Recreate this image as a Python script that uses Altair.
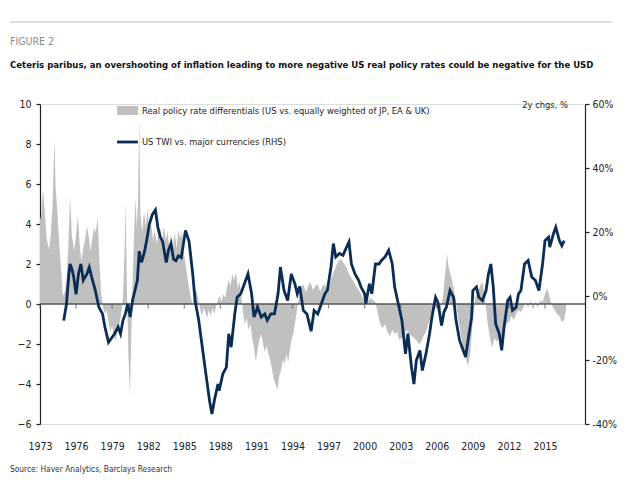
import altair as alt
import pandas as pd

# Real policy rate differential (LHS)
rate_year = [1973.0, 1973.1, 1973.25, 1973.4, 1973.55, 1973.75, 1973.9, 1974.05, 1974.2, 1974.3, 1974.45, 1974.6, 1974.75, 1974.9,
             1975.05, 1975.2, 1975.35, 1975.5, 1975.65, 1975.85, 1976.0, 1976.15, 1976.3, 1976.45, 1976.6, 1976.75, 1976.9,
             1977.05, 1977.2, 1977.35, 1977.5, 1977.65, 1977.8, 1977.95, 1978.1, 1978.25, 1978.4, 1978.55, 1978.7, 1978.85,
             1979.0, 1979.15, 1979.3, 1979.45, 1979.6, 1979.75, 1979.9, 1980.05, 1980.12, 1980.22, 1980.35, 1980.48, 1980.6,
             1980.72, 1980.85, 1980.95, 1981.05, 1981.15, 1981.25, 1981.35, 1981.5, 1981.65, 1981.8, 1981.95, 1982.1, 1982.25,
             1982.4, 1982.55, 1982.7, 1982.85, 1983.0, 1983.15, 1983.3, 1983.45, 1983.6, 1983.75, 1983.9, 1984.05, 1984.2,
             1984.35, 1984.5, 1984.65, 1984.8, 1984.95, 1985.1, 1985.25, 1985.4, 1985.55, 1985.7, 1985.85, 1986.0, 1986.15,
             1986.3, 1986.45, 1986.6, 1986.75, 1986.9, 1987.05, 1987.2, 1987.35, 1987.5, 1987.65, 1987.8, 1987.95, 1988.1,
             1988.25, 1988.4, 1988.55, 1988.7, 1988.85, 1989.0, 1989.15, 1989.3, 1989.45, 1989.6, 1989.75, 1989.9, 1990.05,
             1990.2, 1990.35, 1990.5, 1990.65, 1990.8, 1990.95, 1991.1, 1991.25, 1991.4, 1991.55, 1991.7, 1991.85, 1992.0,
             1992.15, 1992.3, 1992.45, 1992.6, 1992.75, 1992.9, 1993.05, 1993.2, 1993.35, 1993.5, 1993.65, 1993.8, 1993.95,
             1994.1, 1994.25, 1994.4, 1994.55, 1994.7, 1994.9, 1995.1, 1995.3, 1995.5, 1995.7, 1995.9, 1996.1, 1996.3, 1996.5,
             1996.7, 1996.9, 1997.1, 1997.3, 1997.5, 1997.7, 1997.9, 1998.1, 1998.3, 1998.5, 1998.7, 1998.9, 1999.1, 1999.3,
             1999.5, 1999.7, 1999.9, 2000.1, 2000.3, 2000.5, 2000.7, 2000.9, 2001.1, 2001.3, 2001.5, 2001.7, 2001.9, 2002.1,
             2002.3, 2002.5, 2002.7, 2002.9, 2003.1, 2003.3, 2003.5, 2003.7, 2003.9, 2004.1, 2004.3, 2004.5, 2004.7, 2004.9,
             2005.1, 2005.3, 2005.5, 2005.7, 2005.9, 2006.1, 2006.3, 2006.5, 2006.7, 2006.85, 2007.0, 2007.2, 2007.4, 2007.6,
             2007.8, 2008.0, 2008.2, 2008.4, 2008.6, 2008.8, 2009.0, 2009.2, 2009.4, 2009.6, 2009.8, 2010.0, 2010.2, 2010.4,
             2010.6, 2010.8, 2011.0, 2011.2, 2011.4, 2011.6, 2011.8, 2012.0, 2012.2, 2012.4, 2012.6, 2012.8, 2013.0, 2013.2,
             2013.4, 2013.6, 2013.8, 2014.0, 2014.2, 2014.4, 2014.6, 2014.8, 2015.0, 2015.2, 2015.4, 2015.6, 2015.8, 2016.0,
             2016.2, 2016.4, 2016.6, 2016.75]
rate_val = [4.2, 4.4, 5.8, 4.6, 3.3, 2.7, 3.5, 5.0, 8.3, 5.8, 4.6, 3.0, 1.8, 0.4,
            0.6, 1.2, 2.8, 5.4, 3.4, 2.7, 3.5, 4.4, 3.0, 2.1, 2.8, 3.2, 3.9,
            3.4, 2.6, 3.3, 3.8, 3.6, 4.3, 2.0, 0.5, -0.2, -0.5, -0.3, -0.9, -1.4,
            -1.1, -1.6, -1.8, -1.3, -1.0, -0.5, 0.3, 3.0, 5.1, 1.0, -2.5, -4.6, -1.5,
            1.5, 4.0, 5.3, 3.8, 5.0, 9.3, 4.5, 3.6, 4.6, 3.9, 4.8, 3.6, 4.0,
            3.2, 3.7, 3.0, 3.5, 3.8, 3.0, 3.9, 3.2, 3.6, 2.9, 3.5, 2.7, 3.6,
            2.8, 3.7, 3.3, 3.6, 2.6, 2.0, 1.4, 0.8, 0.3, 0.0, 0.5, 0.7, 0.3,
            -0.2, -0.6, -0.2, -0.4, -0.7, -0.3, -0.6, -0.2, -0.5, -0.1, 0.2, 0.4, 0.1,
            0.5, 0.3, 0.8, 1.2, 0.9, 1.5, 1.2, 1.6, 0.8, 1.1, 0.4, -0.5, -1.0,
            -0.7, -1.3, -1.0, -1.7, -2.2, -2.85, -2.3, -1.8, -1.5, -2.0, -2.4, -2.1, -2.5,
            -2.8, -3.3, -3.8, -4.0, -4.3, -3.6, -3.3, -2.8, -3.0, -2.5, -2.9, -2.2, -1.7,
            -1.4, -0.8, -0.2, 0.4, 0.8, 1.0, 0.6, 0.9, 1.1, 0.7, 0.9, 1.0, 0.6, 0.9,
            1.0, 0.5, 1.0, 1.4, 1.7, 2.0, 2.2, 2.2, 2.0, 1.8, 1.5, 1.3, 1.1, 0.9,
            0.7, 0.5, 0.2, 0.0, 0.2, 0.3, 0.2, 0.1, -0.5, -1.0, -1.2, -1.0, -1.4, -1.6,
            -1.3, -1.5, -1.4, -1.8, -1.7, -1.5, -1.3, -1.5, -1.6, -1.7, -1.8, -2.0, -1.9, -1.6,
            -1.4, -1.0, -0.7, -0.3, -0.1, -0.2, -0.4, 0.3, 1.5, 2.5, 1.8, 1.4, 0.8, 0.1,
            -0.8, -1.5, -2.2, -2.7, -3.1, -2.4, -0.8, 0.3, 0.6, 0.9, 1.1, 0.4, -0.8, -1.6,
            -2.2, -1.7, -1.9, -1.6, -1.8, -1.3, -1.0, -0.9, -0.6, -0.8, -0.5, -0.3, -0.4, -0.2,
            0.1, -0.2, 0.2, -0.3, 0.1, -0.2, 0.2, 0.1, 0.5, 0.8, 0.3, -0.1, -0.3, -0.5,
            -0.6, -0.9, -0.8, -0.3]

# US TWI vs major currencies, 2y % change (RHS)
twi_year = [1974.97, 1975.2, 1975.4, 1975.5, 1975.65, 1975.8, 1976.0, 1976.2, 1976.4, 1976.6, 1976.9, 1977.1, 1977.3,
            1977.6, 1977.9, 1978.2, 1978.4, 1978.7, 1979.0, 1979.2, 1979.5, 1979.7, 1979.9, 1980.1, 1980.3, 1980.5,
            1980.7, 1980.9, 1981.1, 1981.25, 1981.45, 1981.7, 1981.9, 1982.1, 1982.35, 1982.6, 1982.8, 1983.0, 1983.2,
            1983.5, 1983.7, 1983.9, 1984.1, 1984.3, 1984.5, 1984.75, 1985.1, 1985.4, 1985.7, 1985.9, 1986.2, 1986.5,
            1986.8, 1987.1, 1987.3, 1987.5, 1987.8, 1987.9, 1988.2, 1988.5, 1988.7, 1988.9, 1989.2, 1989.4, 1989.7,
            1990.0, 1990.3, 1990.6, 1990.8, 1991.1, 1991.4, 1991.7, 1991.9, 1992.2, 1992.5, 1992.8, 1993.0, 1993.3,
            1993.6, 1993.9, 1994.2, 1994.4, 1994.6, 1994.9, 1995.2, 1995.55, 1995.8, 1996.1, 1996.4, 1996.7, 1996.9,
            1997.2, 1997.4, 1997.6, 1997.9, 1998.2, 1998.5, 1998.7, 1998.9, 1999.2, 1999.5, 1999.7, 2000.0, 2000.1,
            2000.4, 2000.6, 2000.9, 2001.2, 2001.4, 2001.7, 2002.0, 2002.3, 2002.5, 2002.8, 2003.1, 2003.4, 2003.6,
            2003.9, 2004.1, 2004.3, 2004.6, 2004.8, 2005.1, 2005.4, 2005.6, 2005.9, 2006.1, 2006.4, 2006.6, 2006.8,
            2007.1, 2007.4, 2007.6, 2007.9, 2008.2, 2008.4, 2008.6, 2008.9, 2009.0, 2009.3, 2009.5, 2009.8, 2010.1,
            2010.3, 2010.5, 2010.7, 2010.9, 2011.2, 2011.4, 2011.6, 2011.9, 2012.1, 2012.3, 2012.6, 2012.8, 2013.0,
            2013.3, 2013.6, 2013.9, 2014.2, 2014.5, 2014.8, 2015.0, 2015.3, 2015.4, 2015.7, 2015.9, 2016.2, 2016.4,
            2016.6]
twi_val = [-7.7, -2.6, 6.9, 10.0, 8.5, 6.0, 0.5, 6.9, 10.0, 4.9, 6.9, 9.0, 5.9,
           1.7, -3.5, -5.6, -9.7, -14.5, -12.9, -11.8, -9.7, -11.8, -7.6, -5.6, -2.4, -6.6,
           -1.3, 1.8, 4.9, 14.0, 10.5, 14.0, 18.0, 22.5, 25.5, 26.9, 21.5, 18.5, 17.0,
           10.5, 14.5, 16.4, 11.5, 11.0, 12.5, 12.0, 20.5, 17.0, 7.0, -1.4, -7.6, -16.0,
           -24.4, -32.7, -36.9, -32.7, -27.5, -29.6, -24.4, -22.3, -11.8, -16.0, -5.6, -0.4, 0.7,
           3.8, 6.9, 0.7, -6.6, -3.5, -6.6, -5.6, -7.6, -5.6, -5.6, 0.7, 9.0, 1.7,
           -1.4, 6.9, 3.8, 0.7, 3.0, -4.5, -5.6, -11.0, -4.5, -5.6, -2.4, 0.7, 1.7,
           9.0, 16.4, 12.2, 13.3, 12.7, 15.3, 16.9, 10.0, 6.9, 4.9, 2.8, 0.7, -2.4,
           3.8, 0.7, 10.0, 10.0, 11.1, 12.2, 14.3, 10.0, 2.8, -2.4, -7.6, -18.1, -11.8,
           -22.3, -27.5, -20.2, -17.0, -23.3, -18.1, -11.8, -6.6, -0.4, -2.0, -9.2, -5.0, -3.5,
           1.7, -0.4, -7.6, -13.9, -17.0, -19.1, -13.9, -6.6, 1.7, 2.8, -0.4, -1.4, 1.7,
           6.9, 10.0, 2.8, -8.7, -11.8, -17.0, -9.7, -1.4, -0.4, -4.5, -3.5, 0.7, 1.7,
           10.0, 11.1, 5.9, 4.9, 1.7, 10.0, 17.3, 18.4, 15.3, 19.4, 21.5, 17.3, 15.7,
           17.3]

year_ticks = list(range(1973, 2016, 3))
left_ticks = [-6, -4, -2, 0, 2, 4, 6, 8, 10]
right_ticks = [-40, -20, 0, 20, 40, 60]

fig_label = "FIGURE 2"
title_text = "Ceteris paribus, an overshooting of inflation leading to more negative US real policy rates could be negative for the USD"
legend_area = "Real policy rate differentials (US vs. equally weighted of JP, EA & UK)"
legend_line = "US TWI vs. major currencies (RHS)"
rhs_unit = "2y chgs, %"
source_text = "Source: Haver Analytics, Barclays Research"

FONT = "Liberation Sans Narrow, DejaVu Sans Condensed, sans-serif"
W, H = 545, 320
GRAY = "#c0c0c0"
NAVY = "#0b2c55"
INK = "#222222"

rate = pd.DataFrame({"year": rate_year, "val": rate_val})
twi = pd.DataFrame({"year": twi_year, "val": twi_val})
ticks_df = pd.DataFrame({"year": year_ticks})
one = pd.DataFrame({"k": [0]})

xscale = alt.Scale(domain=[1973, 2018.33], nice=False, zero=False)
xaxis = alt.Axis(values=year_ticks, format="d", title=None, domain=False, ticks=False,
                 grid=False, labelPadding=17, labelFontSize=10.5, labelColor=INK,
                 labelFont=FONT, labelFlush=False)
x_enc = alt.X("year:Q", scale=xscale, axis=xaxis)

lscale = alt.Scale(domain=[-6, 10], nice=False)
laxis = alt.Axis(values=left_ticks, title=None, grid=False, orient="left",
                 domainColor=INK, domainWidth=1.2, tickColor=INK, tickSize=4, tickWidth=1.2,
                 labelPadding=5, labelFontSize=10.5, labelColor=INK, labelFont=FONT)

area = alt.Chart(rate).mark_area(color=GRAY, opacity=1).encode(
    x=x_enc,
    y=alt.Y("val:Q", scale=lscale, axis=laxis),
)
zero_rule = alt.Chart(one).mark_rule(color="#555555", strokeWidth=1.5).encode(
    y=alt.Y(datum=0, scale=lscale, axis=laxis),
)
zero_ticks = alt.Chart(ticks_df).mark_tick(color="#555555", orient="vertical", size=4,
                                           thickness=1.2, yOffset=2.5).encode(
    x=x_enc,
    y=alt.Y(datum=0, scale=lscale, axis=laxis),
)
left = alt.layer(area, zero_rule, zero_ticks)

line = alt.Chart(twi).mark_line(color=NAVY, strokeWidth=2.8).encode(
    x=x_enc,
    y=alt.Y("val:Q", scale=alt.Scale(domain=[-40, 60], nice=False),
            axis=alt.Axis(values=right_ticks, title=None, grid=False, orient="right",
                          labelExpr="datum.value + '%'",
                          domainColor=INK, domainWidth=1.2, tickColor=INK, tickSize=4, tickWidth=1.2,
                          labelPadding=3, labelFontSize=10.5, labelColor=INK, labelFont=FONT)),
)

def label(txt, x, y, size, color=INK, weight="normal", align="left"):
    return alt.Chart(pd.DataFrame({"t": [txt]})).mark_text(
        align=align, baseline="middle", font=FONT, fontSize=size, fontWeight=weight, color=color
    ).encode(x=alt.value(x), y=alt.value(y), text="t:N")

top_rule = alt.Chart(one).mark_rule(color="#bbbbbb", strokeWidth=1).encode(
    x=alt.value(-30), x2=alt.value(572), y=alt.value(-82))
leg_rect = alt.Chart(one).mark_rect(color=GRAY).encode(
    x=alt.value(77), x2=alt.value(98), y=alt.value(2), y2=alt.value(11))
leg_line = alt.Chart(one).mark_rule(color=NAVY, strokeWidth=2.8).encode(
    x=alt.value(77), x2=alt.value(98), y=alt.value(38))

chart = alt.layer(
    left, line,
    top_rule,
    label(fig_label, -30, -62, 10.5, color="#8a8a8a"),
    label(title_text, -30, -39, 9.5, weight="bold", color="#111111"),
    leg_rect, leg_line,
    label(legend_area, 102, 7, 9.3),
    label(legend_line, 102, 38, 9.3),
    label(rhs_unit, 528, 1, 9.3, align="right"),
    label(source_text, -30, 366, 8.3, color="#333333"),
).resolve_scale(y="independent").resolve_axis(y="independent").properties(
    width=W, height=H,
    autosize=alt.AutoSizeParams(type="none"),
    padding={"left": 32, "top": 96, "right": 37, "bottom": 58},
).configure_view(stroke=None).configure(background="white")

chart.save("out.html", embed_options={"renderer": "svg", "actions": False})
